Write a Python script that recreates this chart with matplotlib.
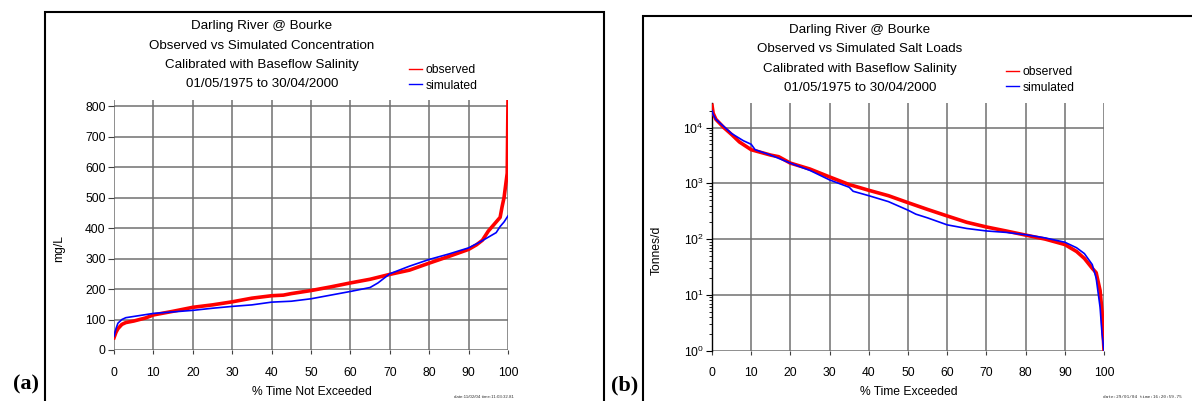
import matplotlib
matplotlib.use("Agg")
import matplotlib.pyplot as plt
from matplotlib.lines import Line2D
from matplotlib.patches import Rectangle
from matplotlib.ticker import LogLocator, NullFormatter
from matplotlib import font_manager

names = {f.name for f in font_manager.fontManager.ttflist}
fam = [n for n in ['Liberation Sans Narrow', 'Arial Narrow', 'DejaVu Sans Condensed',
                   'Liberation Sans'] if n in names] + ['DejaVu Sans']
plt.rcParams['font.family'] = fam
plt.rcParams['mathtext.fontset'] = 'custom'
plt.rcParams['mathtext.rm'] = fam[0]
plt.rcParams['mathtext.default'] = 'rm'
condensed = fam[0] in ('Liberation Sans Narrow', 'Arial Narrow', 'DejaVu Sans Condensed')

# ---- Panel (a): concentration duration curve ----
conc_obs_x = [0, 0.5, 1, 2, 3, 5, 8, 10, 15, 20, 25, 30, 35, 40, 43, 45, 50, 55, 60, 65,
              70, 75, 80, 85, 90, 92, 93.5, 95, 96, 97, 98, 98.5, 99, 99.5, 99.8, 100]
conc_obs_y = [40, 58, 70, 84, 90, 95, 105, 115, 127, 140, 148, 158, 170, 178, 180, 185,
              195, 207, 220, 232, 248, 262, 285, 307, 330, 345, 360, 390, 405, 420, 435,
              470, 500, 550, 580, 820]
conc_sim_x = [0, 0.5, 1, 2, 3, 5, 10, 15, 20, 25, 30, 35, 40, 45, 50, 55, 60, 65, 67,
              69, 70, 75, 80, 85, 90, 93, 95, 97, 98, 99, 100]
conc_sim_y = [45, 70, 88, 100, 106, 110, 120, 125, 130, 137, 143, 148, 157, 160, 168,
              180, 192, 205, 220, 240, 250, 275, 297, 315, 335, 355, 370, 385, 405, 420, 440]

# ---- Panel (b): salt load duration curve ----
load_obs_x = [0, 0.3, 1, 3, 5, 7, 10, 15, 17, 20, 25, 30, 35, 40, 45, 50, 55, 60, 65,
              70, 75, 80, 85, 90, 93, 95, 97, 98, 99, 99.5, 100]
load_obs_y = [25000, 18000, 14000, 10000, 7500, 5500, 4000, 3200, 3000, 2300, 1800, 1300,
              950, 750, 600, 450, 340, 260, 200, 165, 140, 118, 100, 80, 60, 45, 30, 25,
              12, 5, 1]
load_sim_x = [0, 0.3, 1, 5, 8, 10, 11, 15, 20, 25, 30, 35, 36, 40, 45, 50, 52, 55, 60,
              65, 70, 75, 80, 85, 90, 93, 95, 97, 98, 99, 99.5, 100]
load_sim_y = [20000, 17000, 14000, 7800, 5800, 5000, 4000, 3200, 2300, 1700, 1150, 850,
              720, 600, 470, 330, 280, 240, 180, 155, 140, 132, 120, 105, 88, 70, 55, 35,
              20, 6, 2, 1]

x_ticks = [0, 10, 20, 30, 40, 50, 60, 70, 80, 90, 100]
conc_ticks = [0, 100, 200, 300, 400, 500, 600, 700, 800]
load_ticks = [1, 10, 100, 1000, 10000]

W, H = 1192, 401
fig = plt.figure(figsize=(W / 100, H / 100), dpi=100)

TS = 10.5 if condensed else 9.6   # title size
LS = 9.5 if condensed else 8.7    # label / legend size
KS = 9.5 if condensed else 8.7    # tick label size


def fx(px):
    return px / W


def fy(py):
    return 1 - py / H


# panel frames
fig.patches.append(Rectangle((fx(45), fy(420)), fx(604 - 45), fy(12) - fy(420),
                             transform=fig.transFigure, fill=False, ec='black', lw=1.5))
fig.patches.append(Rectangle((fx(643), fy(420)), fx(1200 - 643), fy(16) - fy(420),
                             transform=fig.transFigure, fill=False, ec='black', lw=1.5))

grid_kw = dict(color='#707070', lw=1.1)

# ---- axes a ----
axa = fig.add_axes([fx(114), fy(350), fx(508 - 114), fy(100) - fy(350)])
axa.plot(conc_obs_x, conc_obs_y, color='#ff0000', lw=2.6, zorder=3)
axa.plot(conc_sim_x, conc_sim_y, color='#0000ff', lw=1.2, zorder=4)
axa.set_xlim(0, 100)
axa.set_ylim(0, 820)
axa.set_xticks(x_ticks)
axa.set_yticks(conc_ticks)
axa.grid(True, **grid_kw)
for s in axa.spines.values():
    s.set_visible(False)
axa.tick_params(axis='x', length=3, pad=9, labelsize=KS, color='#404040')
axa.tick_params(axis='y', length=4, pad=2, labelsize=KS, color='#404040')
axa.set_axisbelow(True)

# ---- axes b ----
axb = fig.add_axes([fx(712), fy(350.7), fx(1104 - 712), fy(103) - fy(350.7)])
axb.plot(load_obs_x, load_obs_y, color='#ff0000', lw=2.6, zorder=3)
axb.plot(load_sim_x, load_sim_y, color='#0000ff', lw=1.2, zorder=4)
axb.set_yscale('log')
axb.set_xlim(0, 100)
axb.set_ylim(1, 27500)
axb.set_xticks(x_ticks)
axb.set_yticks(load_ticks)
axb.yaxis.set_minor_locator(LogLocator(base=10, subs=range(2, 10)))
axb.yaxis.set_minor_formatter(NullFormatter())
axb.grid(True, which='major', **grid_kw)
for k in ('top', 'right'):
    axb.spines[k].set_visible(False)
axb.spines['bottom'].set_visible(False)
axb.spines['left'].set_color('black')
axb.spines['left'].set_linewidth(1.0)
axb.tick_params(axis='x', length=3, pad=9, labelsize=KS, color='#404040')
axb.tick_params(axis='y', which='major', length=4, pad=2, labelsize=KS)
axb.tick_params(axis='y', which='minor', length=2.5)
axb.set_axisbelow(True)

# titles
title_a = ["Darling River @ Bourke", "Observed vs Simulated Concentration",
           "Calibrated with Baseflow Salinity", "01/05/1975 to 30/04/2000"]
title_b = ["Darling River @ Bourke", "Observed vs Simulated Salt Loads",
           "Calibrated with Baseflow Salinity", "01/05/1975 to 30/04/2000"]
for t, y in zip(title_a, [26, 46, 65, 84]):
    fig.text(fx(262), fy(y), t, ha='center', va='center', fontsize=TS)
for t, y in zip(title_b, [30, 49, 69, 88]):
    fig.text(fx(860), fy(y), t, ha='center', va='center', fontsize=TS)

# legends
handles = [Line2D([], [], color='#ff0000', lw=1.0), Line2D([], [], color='#0000ff', lw=1.0)]
for ax, x0, y0 in ((axa, 409, 64), (axb, 1006, 66)):
    ax.legend(handles=handles, labels=['observed', 'simulated'], loc='upper left',
              bbox_to_anchor=(fx(x0), fy(y0)), bbox_transform=fig.transFigure,
              frameon=False, handlelength=1.1, handletextpad=0.3, labelspacing=0.3,
              borderpad=0, borderaxespad=0, fontsize=LS)

# axis labels
fig.text(fx(59), fy(248), "mg/L", rotation=90, ha='center', va='center', fontsize=LS)
fig.text(fx(312), fy(392), "% Time Not Exceeded", ha='center', va='center', fontsize=LS)
fig.text(fx(657), fy(250), "Tonnes/d", rotation=90, ha='center', va='center', fontsize=LS)
fig.text(fx(909), fy(392), "% Time Exceeded", ha='center', va='center', fontsize=LS)

# date stamps
fig.text(fx(484), fy(397), "date:11/02/04 time:11:03:32.81", ha='center', va='center',
         fontsize=3.2, color='#333333')
fig.text(fx(1142), fy(397), "date:29/01/04 time:16:20:59.75", ha='center', va='center',
         fontsize=3.2, color='#333333', family='DejaVu Sans Mono')

# panel letters
fig.text(fx(26), fy(384), "(a)", ha='center', va='center', fontsize=16,
         fontweight='bold', family='Liberation Serif')
fig.text(fx(625), fy(385), "(b)", ha='center', va='center', fontsize=16,
         fontweight='bold', family='Liberation Serif')

fig.savefig("out.png", dpi=100)
